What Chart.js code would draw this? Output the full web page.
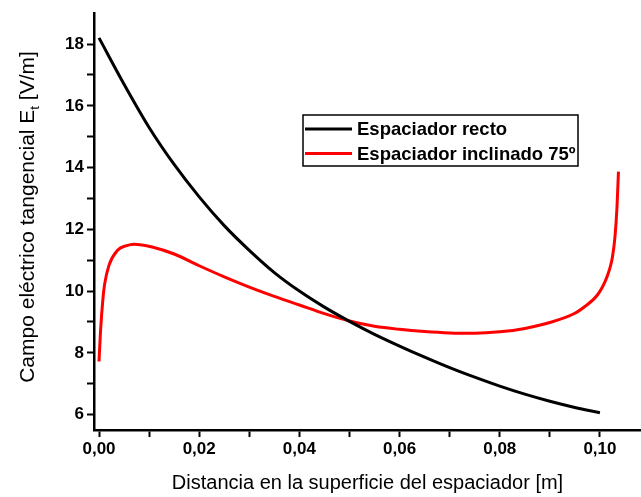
<!DOCTYPE html>
<html><head><meta charset="utf-8">
<script src="https://cdn.jsdelivr.net/npm/chart.js@4.4.1/dist/chart.umd.min.js"></script>
<style>html,body{margin:0;padding:0;background:#fff}#wrap{width:641px;height:497px;position:relative}</style>
</head><body><div id="wrap"><canvas id="c"></canvas></div>
<script>
// ---- data ----
const rectoX = [0, 0.005, 0.01, 0.015, 0.02, 0.025, 0.03, 0.035, 0.04, 0.045, 0.05, 0.055, 0.06, 0.065, 0.07, 0.075, 0.08, 0.085, 0.09, 0.095, 0.1];
const rectoY = [18.2, 16.7, 15.3, 14.1, 13.05, 12.12, 11.32, 10.6, 10.0, 9.48, 9.02, 8.6, 8.22, 7.86, 7.52, 7.21, 6.92, 6.66, 6.43, 6.23, 6.06];
const inclX = [0, 0.0003, 0.0008, 0.0011, 0.002, 0.0037, 0.0055, 0.007, 0.0106, 0.015, 0.02, 0.025, 0.03, 0.035, 0.04, 0.045, 0.05, 0.055, 0.06, 0.065, 0.07, 0.075, 0.08, 0.085, 0.09, 0.095, 0.097, 0.099, 0.1, 0.101, 0.1015, 0.102, 0.1025, 0.103, 0.1034, 0.1037];
const inclY = [7.72, 8.7, 9.78, 10.2, 10.84, 11.32, 11.47, 11.52, 11.43, 11.2, 10.82, 10.46, 10.13, 9.83, 9.55, 9.27, 9.03, 8.86, 8.76, 8.69, 8.645, 8.635, 8.68, 8.79, 8.98, 9.28, 9.5, 9.78, 9.99, 10.3, 10.5, 10.75, 11.1, 11.75, 12.7, 13.87];
const xTicks = [0, 0.01, 0.02, 0.03, 0.04, 0.05, 0.06, 0.07, 0.08, 0.09, 0.10];
const yTicks = [6, 7, 8, 9, 10, 11, 12, 13, 14, 15, 16, 17, 18];
const seriesLabels = ['Espaciador recto', 'Espaciador inclinado 75º'];
const seriesColors = ['#000000', '#ff0000'];
const xTitle = 'Distancia en la superficie del espaciador [m]';
const yTitleMain = 'Campo eléctrico tangencial E';
const yTitleSub = 't';
const yTitleEnd = ' [V/m]';

const FONT = "'Liberation Sans', Arial, sans-serif";

const legendPlugin = {
  id: 'boxLegend',
  afterDraw(chart) {
    const ctx = chart.ctx;
    const bx = 303, by = 115, bw = 275, bh = 51;
    ctx.save();
    ctx.fillStyle = '#fff';
    ctx.fillRect(bx, by, bw, bh);
    ctx.strokeStyle = '#000';
    ctx.lineWidth = 1.5;
    ctx.strokeRect(bx, by, bw, bh);
    ctx.font = "bold 18.5px " + FONT;
    ctx.textBaseline = 'middle';
    chart.data.datasets.forEach((ds, i) => {
      const y = 129 + i * 24.5;
      ctx.strokeStyle = ds.borderColor;
      ctx.lineWidth = 3;
      ctx.beginPath(); ctx.moveTo(305, y); ctx.lineTo(352, y); ctx.stroke();
      ctx.fillStyle = '#000';
      ctx.fillText(ds.label, 357, y + 1);
    });
    ctx.restore();
  }
};

const yTitlePlugin = {
  id: 'yTitle',
  afterDraw(chart) {
    const ctx = chart.ctx;
    ctx.save();
    ctx.translate(28, 217);
    ctx.rotate(-Math.PI / 2);
    ctx.fillStyle = '#000';
    ctx.textBaseline = 'middle';
    const f1 = "21px " + FONT, f2 = "13px " + FONT;
    ctx.font = f1; const w1 = ctx.measureText(yTitleMain).width; const w3 = ctx.measureText(yTitleEnd).width;
    ctx.font = f2; const w2 = ctx.measureText(yTitleSub).width;
    let x = -(w1 + w2 + w3) / 2;
    ctx.font = f1; ctx.textAlign = 'left';
    ctx.fillText(yTitleMain, x, 0); x += w1;
    ctx.font = f2; ctx.fillText(yTitleSub, x, 7); x += w2;
    ctx.font = f1; ctx.fillText(yTitleEnd, x, 0);
    ctx.restore();
  }
};

const fmtX = v => (Math.round(v * 100) % 2 === 0) ? v.toFixed(2).replace('.', ',') : '';
const fmtY = v => (Math.round(v) % 2 === 0) ? String(Math.round(v)) : '';

new Chart(document.getElementById('c'), {
  type: 'line',
  data: {
    datasets: [
      { label: seriesLabels[0], data: rectoX.map((x, i) => ({ x, y: rectoY[i] })), borderColor: seriesColors[0], borderWidth: 3, pointRadius: 0, cubicInterpolationMode: 'monotone', fill: false },
      { label: seriesLabels[1], data: inclX.map((x, i) => ({ x, y: inclY[i] })), borderColor: seriesColors[1], borderWidth: 3, pointRadius: 0, cubicInterpolationMode: 'monotone', fill: false }
    ]
  },
  options: {
    responsive: true, maintainAspectRatio: false, animation: false,
    layout: { padding: { top: 7, right: 0, left: 0, bottom: 0 } },
    plugins: { legend: { display: false }, tooltip: { enabled: false } },
    scales: {
      x: {
        type: 'linear', min: -0.001, max: 0.1082,
        afterBuildTicks: s => { s.ticks = xTicks.map(v => ({ value: v })); },
        afterFit: s => { s.height = 67; },
        grid: { drawOnChartArea: false, drawTicks: true, tickLength: 7, tickColor: '#000', tickWidth: 2 },
        border: { color: '#000', width: 2.5 },
        ticks: { color: '#000', font: { family: FONT, size: 17, weight: 'bold' }, padding: 2, maxRotation: 0, autoSkip: false, callback: fmtX },
        title: { display: true, text: xTitle, color: '#000', font: { family: FONT, size: 20 }, padding: { top: 0, bottom: 2 } }
      },
      y: {
        type: 'linear', min: 5.5, max: 19.0,
        afterBuildTicks: s => { s.ticks = yTicks.map(v => ({ value: v })); },
        afterFit: s => { s.width = 94; },
        grid: { drawOnChartArea: false, drawTicks: true, tickLength: 7, tickColor: '#000', tickWidth: 2 },
        border: { color: '#000', width: 2.5 },
        ticks: { color: '#000', font: { family: FONT, size: 17, weight: 'bold' }, padding: 3, autoSkip: false, callback: fmtY }
      }
    }
  },
  plugins: [legendPlugin, yTitlePlugin]
});
</script></body></html>
